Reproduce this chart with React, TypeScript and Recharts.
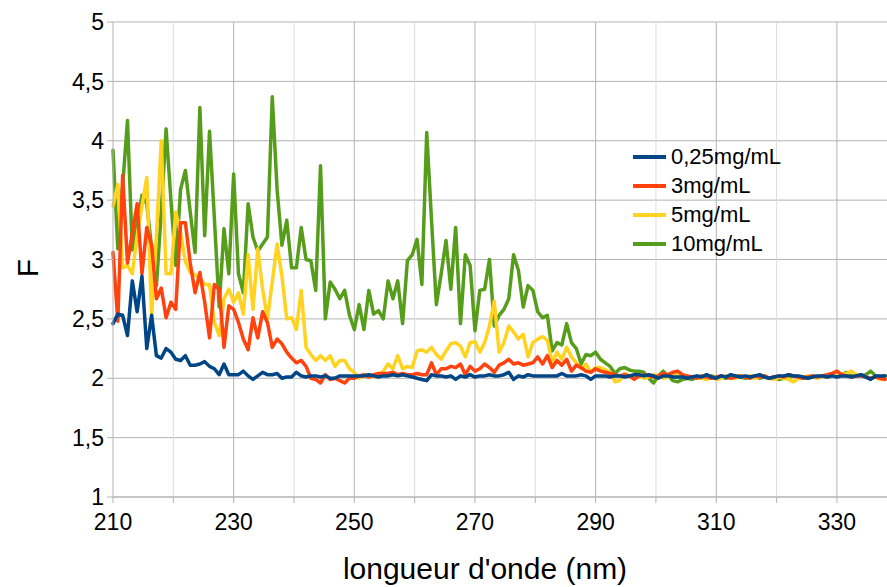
import { CartesianGrid, Line, LineChart, ReferenceLine, XAxis, YAxis } from "recharts";

// sampling grid of the spectrum (nm)
const START_NM = 210;
const STEP_NM = 0.8;

const F_025 = [
  2.46, 2.54, 2.53, 2.36, 2.82, 2.56, 2.86, 2.25, 2.53, 2.19, 2.17, 2.25, 2.22, 2.16, 2.15, 2.19, 2.11, 2.11, 2.12, 2.14, 2.1, 2.08, 2.03, 2.12, 2.03, 2.03,
  2.03, 2.06, 2.02, 1.99, 2.02, 2.05, 2.03, 2.03, 2.04, 2.0, 2.01, 2.01, 2.05, 2.02, 2.01, 2.02, 2.02, 2.01, 2.02, 2.0, 2.0, 2.02, 2.02, 2.02, 2.02,
  2.02, 2.02, 2.03, 2.02, 2.01, 2.02, 2.02, 2.03, 2.02, 2.03, 2.02, 2.01, 2.0, 1.99, 1.98, 2.03, 2.02, 2.02, 2.01, 2.02, 1.99, 2.02, 2.01, 2.03, 2.01,
  2.02, 2.02, 2.03, 2.02, 2.02, 2.03, 2.05, 1.99, 2.02, 2.01, 2.03, 2.02, 2.02, 2.02, 2.02, 2.02, 2.02, 2.04, 2.02, 2.02, 2.02, 2.03, 2.02, 1.99, 2.02,
  2.02, 2.02, 2.01, 2.02, 2.02, 2.01, 2.02, 2.03, 2.03, 2.02,
  2.03, 2.02, 2.0, 2.02, 2.02, 2.01, 2.01, 2.01, 2.0, 2.01,
  2.02, 2.01, 2.03, 2.01, 2.0, 2.02, 2.01, 2.03, 2.02, 2.01,
  2.02, 2.01, 2.02, 2.03, 2.01, 2.0, 2.01, 2.02, 2.02, 2.03,
  2.02, 2.02, 2.01, 2.0, 2.01, 2.02, 2.02, 2.01, 2.02, 2.01,
  2.02, 2.02, 2.01, 2.02, 2.03, 2.01, 1.99, 2.02, 2.02, 2.02,
];

const F_3 = [
  3.06, 2.48, 3.71, 2.97, 3.22, 3.47, 2.88, 3.27, 3.12, 2.67, 2.76, 2.51, 2.64, 2.58, 3.31, 3.31, 2.97, 2.72, 2.89, 2.64, 2.34, 2.79, 2.75, 2.26, 2.61, 2.58,
  2.47, 2.33, 2.24, 2.51, 2.34, 2.56, 2.47, 2.26, 2.33, 2.29, 2.22, 2.17, 2.13, 2.15, 2.1, 2.0, 1.99, 1.96, 2.03, 1.99, 2.0, 1.98, 1.96, 2.0, 2.0,
  2.02, 2.03, 2.01, 2.03, 2.04, 2.04, 2.04, 2.05, 2.03, 2.04, 2.03, 2.03, 2.04, 2.03, 2.03, 2.13, 2.03, 2.08, 2.08, 2.1, 2.09, 2.12, 2.03, 2.1, 2.06,
  2.08, 2.12, 2.09, 2.05, 2.11, 2.13, 2.16, 2.12, 2.13, 2.11, 2.12, 2.13, 2.18, 2.12, 2.19, 2.09, 2.15, 2.11, 2.16, 2.06, 2.11, 2.09, 2.06, 2.05, 2.08,
  2.06, 2.05, 2.04, 2.03, 2.02, 2.03, 2.02, 1.99, 2.02, 2.03,
  2.02, 2.01, 2.02, 2.04, 2.03, 2.05, 2.06, 2.03, 2.02, 2.01,
  2.0, 2.02, 2.01, 2.0, 2.01, 2.02, 2.01, 2.0, 2.01, 2.02,
  2.01, 2.0, 2.02, 2.01, 2.02, 2.0, 2.01, 2.02, 2.01, 2.03,
  2.02, 2.01, 2.0, 2.01, 2.02, 2.01, 2.02, 2.03, 2.04, 2.06,
  2.03, 2.02, 2.01, 2.02, 2.02, 2.01, 2.0, 2.01, 2.0, 1.99,
];

const F_5 = [
  3.45, 3.63, 2.93, 2.95, 2.88, 3.2, 3.45, 3.69, 2.52, 3.2, 4.0, 2.88, 2.88, 3.4, 3.23, 2.98, 2.89, 2.87, 2.84, 2.79, 2.79, 2.47, 2.36, 2.67, 2.75, 2.64,
  2.72, 2.54, 3.04, 2.58, 3.09, 2.75, 2.5, 2.81, 3.13, 2.86, 2.5, 2.51, 2.41, 2.74, 2.26, 2.2, 2.15, 2.19, 2.15, 2.19, 2.1, 2.15, 2.15, 2.08, 2.05,
  2.0, 2.02, 2.03, 2.01, 2.02, 2.06, 2.12, 2.08, 2.19, 2.08, 2.1, 2.09, 2.23, 2.24, 2.22, 2.26, 2.2, 2.16, 2.23, 2.29, 2.3, 2.27, 2.18, 2.3, 2.31,
  2.22, 2.3, 2.44, 2.65, 2.22, 2.3, 2.44, 2.39, 2.33, 2.37, 2.18, 2.3, 2.33, 2.35, 2.32, 2.13, 2.22, 2.16, 2.26, 2.18, 2.13, 2.08, 2.12, 2.05, 2.09,
  2.09, 2.07, 2.05, 1.97, 1.98, 2.04, 2.02, 2.01, 2.02, 2.0,
  2.01, 2.03, 2.02, 2.0, 2.01, 2.02, 2.04, 2.01, 2.0, 2.01,
  2.02, 2.0, 1.99, 2.01, 1.99, 2.0, 2.02, 2.01, 2.0, 2.02,
  2.01, 2.02, 2.0, 2.01, 2.02, 2.0, 1.99, 2.01, 2.0, 1.99,
  1.97, 2.0, 2.01, 2.02, 2.01, 2.0, 2.02, 2.01, 2.03, 2.02,
  2.03, 2.04, 2.06, 2.03, 2.02, 2.01, 2.0, 2.01, 1.99, 2.0,
];

const F_10 = [
  3.92, 3.09, 3.62, 4.17, 3.08, 3.3, 3.54, 3.47, 3.1, 2.78, 3.4, 4.1, 3.5, 2.95, 3.59, 3.75, 3.4, 3.06, 4.28, 3.2, 4.08, 3.35, 2.6, 3.26, 2.88, 3.72,
  2.88, 2.72, 3.47, 3.19, 3.07, 3.13, 3.19, 4.37, 3.59, 3.12, 3.33, 2.93, 2.93, 3.27, 3.0, 2.99, 2.74, 3.79, 2.5, 2.81, 2.75, 2.67, 2.74, 2.53, 2.41,
  2.62, 2.41, 2.74, 2.54, 2.57, 2.5, 2.82, 2.67, 2.82, 2.46, 2.99, 3.04, 3.17, 2.79, 4.07, 3.33, 2.62, 2.88, 3.16, 2.75, 3.27, 2.46, 3.04, 2.95, 2.4,
  2.74, 2.75, 3.0, 2.44, 2.53, 2.58, 2.67, 3.04, 2.91, 2.6, 2.78, 2.74, 2.56, 2.51, 2.53, 2.23, 2.3, 2.28, 2.46, 2.3, 2.25, 2.12, 2.2, 2.19, 2.22,
  2.16, 2.13, 2.1, 2.04, 2.08, 2.09, 2.07, 2.06, 2.06, 2.05,
  2.0, 1.96, 2.02, 2.06, 2.02, 1.98, 1.97, 1.99, 2.0, 1.99,
  2.01, 2.0, 2.01, 2.02, 2.0, 2.01, 2.0, 2.01, 2.02, 2.01,
  2.0, 2.01, 2.02, 2.0, 2.01, 2.0, 2.01, 1.99, 2.0, 2.01,
  2.02, 2.01, 2.0, 2.01, 2.02, 2.01, 2.02, 2.01, 2.03, 2.02,
  2.03, 2.05, 2.02, 2.03, 2.02, 2.03, 2.06, 2.02, 2.01, 2.02,
];

const X_TICKS = [210, 220, 230, 240, 250, 260, 270, 280, 290, 300, 310, 320, 330];
const Y_TICKS = [1, 1.5, 2, 2.5, 3, 3.5, 4, 4.5, 5];

const SERIES = [
  { key: "f025", label: "0,25mg/mL", color: "#004586", values: F_025 },
  { key: "f3", label: "3mg/mL", color: "#ff420e", values: F_3 },
  { key: "f5", label: "5mg/mL", color: "#ffd320", values: F_5 },
  { key: "f10", label: "10mg/mL", color: "#579d1c", values: F_10 },
];

const FONT = '"Liberation Sans", Arial, sans-serif';
const GRID_MAJOR = "#b3b3b3";
const GRID_MINOR = "#dddddd";

const data = F_025.map((_, i) => {
  const row: Record<string, number> = { nm: Math.round((START_NM + i * STEP_NM) * 10) / 10 };
  SERIES.forEach((s) => {
    if (s.values[i] !== undefined) row[s.key] = s.values[i];
  });
  return row;
});

const formatComma = (v: number) => String(v).replace(".", ",");

export default function App() {
  return (
    <div style={{ position: "absolute", left: 0, top: 0, width: 887, height: 587, fontFamily: FONT }}>
      <LineChart
        width={887}
        height={587}
        data={data}
        margin={{ top: 22, right: 0, bottom: 0, left: 0 }}
      >
        <CartesianGrid vertical={false} stroke={GRID_MAJOR} strokeWidth={1} />
        {X_TICKS.filter((t) => t !== 210).map((t) => (
          <ReferenceLine
            key={t}
            x={t}
            stroke={(t - 210) % 20 === 0 ? GRID_MAJOR : GRID_MINOR}
            strokeWidth={1}
          />
        ))}
        <XAxis
          type="number"
          dataKey="nm"
          domain={[210, 338.3]}
          ticks={X_TICKS}
          interval={0}
          height={90}
          tickSize={6}
          tickMargin={11}
          axisLine={{ stroke: GRID_MAJOR }}
          tickLine={{ stroke: GRID_MAJOR }}
          tick={{ fill: "#000", fontSize: 23, fontFamily: FONT }}
          tickFormatter={(v: number) => ((v - 210) % 20 === 0 ? String(v) : "")}
          label={{
            content: () => (
              <text x={485} y={579} textAnchor="middle" fontSize={30} fontFamily={FONT} fill="#000">
                longueur d'onde (nm)
              </text>
            ),
          }}
        />
        <YAxis
          type="number"
          domain={[1, 5]}
          ticks={Y_TICKS}
          interval={0}
          width={113}
          tickSize={6}
          tickMargin={3}
          axisLine={{ stroke: GRID_MAJOR }}
          tickLine={{ stroke: GRID_MAJOR }}
          tick={{ fill: "#000", fontSize: 23, fontFamily: FONT }}
          tickFormatter={formatComma}
          label={{
            content: () => (
              <text
                x={27}
                y={268}
                dy="0.35em"
                textAnchor="middle"
                fontSize={30}
                fontFamily={FONT}
                fill="#000"
                transform="rotate(-90 27 268)"
              >
                F
              </text>
            ),
          }}
        />
        {[...SERIES].reverse().map((s) => (
          <Line
            key={s.key}
            type="linear"
            dataKey={s.key}
            stroke={s.color}
            strokeWidth={3.5}
            strokeLinejoin="round"
            strokeLinecap="round"
            dot={false}
            activeDot={false}
            isAnimationActive={false}
          />
        ))}
      </LineChart>
      <div style={{ position: "absolute", left: 633, top: 142, fontFamily: FONT }}>
        {SERIES.map((s) => (
          <div key={s.key} style={{ display: "flex", alignItems: "center", height: 29 }}>
            <span style={{ display: "inline-block", width: 33, height: 4, background: s.color, marginRight: 5 }} />
            <span style={{ fontSize: 22, lineHeight: "29px", color: "#000" }}>{s.label}</span>
          </div>
        ))}
      </div>
    </div>
  );
}
